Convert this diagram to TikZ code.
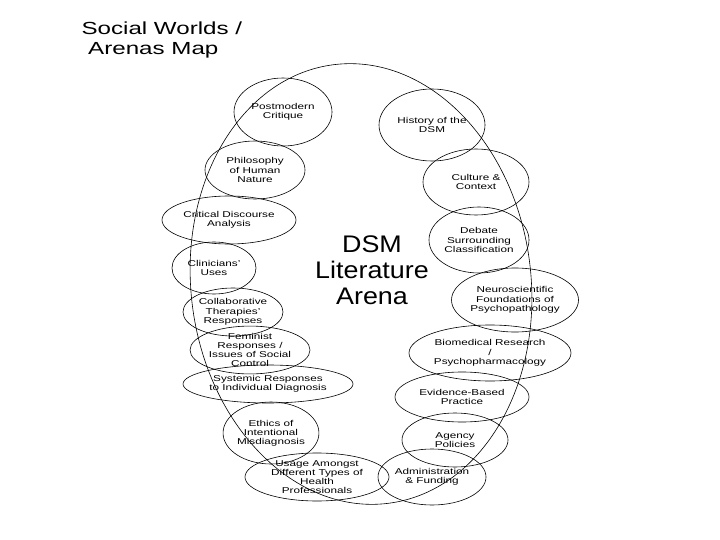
\documentclass[tikz,border=0pt]{standalone}
\usepackage{fontspec}
\setmainfont[FakeStretch=1.38]{Liberation Sans}
\newfontfamily\arenafont[FakeStretch=1.12]{Liberation Sans}
\usetikzlibrary{shapes.geometric}
\tikzset{
  world/.style={draw, ellipse, inner sep=0pt, align=center, font=\fontsize{8.5}{9.2}\selectfont, line width=0.6pt},
}
\begin{document}
\begin{tikzpicture}[x=1pt, y=-1pt]
\useasboundingbox (0,0) rectangle (720,540);
% Title
\node[anchor=north west, align=left, font=\fontsize{17.5}{20}\selectfont] (title) at (78,18) {Social Worlds /\\ \ Arenas Map};

% Arena boundary
\draw[line width=0.6pt, rotate around={7:(361,284)}] (361,284) ellipse (170 and 221);
\node[align=center, font=\arenafont\fontsize{24}{26}\selectfont] (arena) at (372,270) {DSM\\Literature\\Arena};

% Left side worlds
\node[world, minimum width=98pt, minimum height=68pt] (postmodern) at (283,112) {Postmodern\\Critique};
\node[world, minimum width=100pt, minimum height=58pt] (philosophy) at (255,170) {Philosophy\\of Human\\Nature};
\node[world, minimum width=134pt, minimum height=48pt] (discourse) at (229,220) {Critical Discourse\\Analysis};
\node[world, minimum width=84pt, minimum height=52pt] (clinicians) at (214,268) {Clinicians'\\Uses};
\node[world, minimum width=100pt, minimum height=48pt] (collab) at (233,312) {Collaborative\\Therapies'\\Responses};
\node[world, minimum width=120pt, minimum height=46pt] (feminist) at (250,350) {Feminist\\Responses /\\Issues of Social\\Control};
\node[world, minimum width=170pt, minimum height=38pt] (systemic) at (268,384) {Systemic Responses\\to Individual Diagnosis};
\node[world, minimum width=92pt, minimum height=62pt] (ethics) at (271,433) {Ethics of\\Intentional\\Misdiagnosis};
\node[world, minimum width=144pt, minimum height=48pt] (usage) at (317,477) {Usage Amongst\\Different Types of\\Health\\Professionals};

% Right side worlds
\node[world, minimum width=106pt, minimum height=72pt] (history) at (432,125) {History of the\\DSM};
\node[world, minimum width=106pt, minimum height=66pt] (culture) at (476,182) {Culture \&\\Context};
\node[world, minimum width=100pt, minimum height=66pt] (debate) at (479,240) {Debate\\Surrounding\\Classification};
\node[world, minimum width=127pt, minimum height=64pt] (neuro) at (515,300) {Neuroscientific\\Foundations of\\Psychopathology};
\node[world, minimum width=162pt, minimum height=56pt] (biomed) at (490,353) {Biomedical Research\\/\\Psychopharmacology};
\node[world, minimum width=134pt, minimum height=50pt] (evidence) at (462,397) {Evidence-Based\\Practice};
\node[world, minimum width=106pt, minimum height=54pt] (agency) at (455,440) {Agency\\Policies};
\node[world, minimum width=108pt, minimum height=56pt] (admin) at (432,477) {Administration\\\& Funding};
\end{tikzpicture}
\end{document}
